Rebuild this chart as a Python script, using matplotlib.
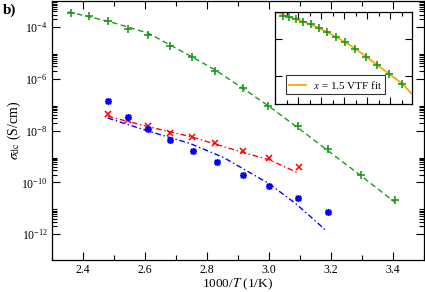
import numpy as np
import matplotlib
matplotlib.use('Agg')
import matplotlib.pyplot as plt
from matplotlib.ticker import FixedLocator, MultipleLocator, NullFormatter, LogLocator

plt.rcParams['font.family'] = ['Liberation Serif', 'DejaVu Serif']
plt.rcParams['mathtext.fontset'] = 'stix'

# DATA (x = 1000/T, y = log10 sigma_dc)
x_green = [2.360, 2.420, 2.482, 2.544, 2.611, 2.681, 2.753, 2.827, 2.915, 2.997, 3.094, 3.191, 3.296, 3.405]
y_green = [-3.46, -3.58, -3.78, -4.09, -4.32, -4.74, -5.18, -5.69, -6.35, -7.04, -7.81, -8.72, -9.70, -10.70]
xfit_green = [2.352, 2.481, 2.610, 2.752, 2.826, 2.913, 2.997, 3.094, 3.190, 3.294, 3.406]
yfit_green = [-3.42, -3.78, -4.24, -5.16, -5.66, -6.35, -7.04, -7.90, -8.78, -9.72, -10.77]

x_red = [2.482, 2.544, 2.611, 2.681, 2.753, 2.827, 2.915, 3.001, 3.096]
y_red = [-7.37, -7.59, -7.82, -8.08, -8.27, -8.48, -8.81, -9.08, -9.42]
xfit_red = [2.480, 2.610, 2.745, 2.834, 2.917, 3.000, 3.095]
yfit_red = [-7.45, -7.85, -8.23, -8.55, -8.85, -9.13, -9.64]

x_blue = [2.482, 2.544, 2.611, 2.681, 2.755, 2.832, 2.915, 3.001, 3.094, 3.191]
y_blue = [-6.88, -7.48, -7.95, -8.36, -8.78, -9.23, -9.70, -10.13, -10.60, -11.13]
xfit_blue = [2.480, 2.610, 2.745, 2.853, 3.000, 3.089, 3.186]
yfit_blue = [-7.52, -8.02, -8.50, -9.04, -10.05, -10.85, -11.88]

# inset (no tick labels in the original)
x_ins = [0.67, 1.24, 1.83, 2.46, 3.10, 3.80, 4.55, 5.30, 6.11, 6.98, 7.91, 8.84, 9.89, 11.02]
y_ins = [4.27, 4.18, 4.07, 3.95, 3.80, 3.60, 3.37, 3.12, 2.83, 2.49, 2.07, 1.62, 1.14, 0.61]
xfit_ins = [0.0, 1.24, 2.46, 3.80, 5.30, 6.98, 8.84, 9.89, 11.02, 11.9]
yfit_ins = [4.50, 4.20, 3.96, 3.61, 3.13, 2.50, 1.63, 1.15, 0.62, 0.05]

green = '#1c9a1c'
red = '#ff0000'
blue = '#0000ff'
orange = '#ffa500'

fig = plt.figure(figsize=(4.25, 2.92), dpi=100)
ax = fig.add_axes([52/425, 1-260/292, 372/425, 259/292])

ax.plot(xfit_green, 10**np.array(yfit_green), color=green, lw=1.0, ls=(0, (4, 2.5)))
ax.plot(x_green, 10**np.array(y_green), ls='none', marker='+', color=green, ms=6, mew=1.2)
ax.plot(xfit_red, 10**np.array(yfit_red), color=red, lw=1.0, ls=(0, (4, 2, 1, 2)))
ax.plot(x_red, 10**np.array(y_red), ls='none', marker='x', color=red, ms=4, mew=1.1)
ax.plot(xfit_blue, 10**np.array(yfit_blue), color=blue, lw=1.0, ls=(0, (4, 2, 1, 2)))
ax.plot(x_blue, 10**np.array(y_blue), ls='none', marker=(8, 2, 0), color=blue, ms=5, mew=1.1)

ax.set_yscale('log')
ax.set_xlim(2.3, 3.5)
ax.set_ylim(1e-13, 1e-3)
ax.xaxis.set_major_locator(MultipleLocator(0.2))
ax.xaxis.set_minor_locator(MultipleLocator(0.1))
ax.yaxis.set_major_locator(FixedLocator([1e-12, 1e-10, 1e-8, 1e-6, 1e-4]))
minors = [k * 10.0**e for e in (-12, -10, -8, -6, -4) for k in range(2, 10)]
ax.yaxis.set_minor_locator(FixedLocator(minors))
ax.yaxis.set_minor_formatter(NullFormatter())
ax.tick_params(which='both', direction='in', top=True, right=True, labelsize=8.5, width=0.8)
ax.tick_params(which='major', length=6, pad=3)
ax.tick_params(which='minor', length=3.5)
for s in ax.spines.values():
    s.set_linewidth(0.9)

ax.set_xlabel('1000/$T$ (1/K)', fontsize=9.5, labelpad=0)
ax.set_ylabel(r'$\sigma_{\rm dc}$ (S/cm)', fontsize=10)
ax.yaxis.set_label_coords(-0.078, 0.5)
fig.text(3/425, 1-14/292, 'b)', fontsize=11, fontweight='bold')

# INSET
axi = fig.add_axes([275/425, 1-104/292, 137/425, 92/292])
axi.plot(xfit_ins, 10**np.array(yfit_ins), color=orange, lw=1.3, label='$x$ = 1.5 VTF fit')
axi.plot(x_ins, 10**np.array(y_ins), ls='none', marker='+', color=green, ms=6, mew=1.2)
axi.set_yscale('log')
axi.set_xlim(0, 11.9)
axi.set_ylim(10**-0.49, 10**4.47)
axi.xaxis.set_major_locator(MultipleLocator(2))
axi.xaxis.set_minor_locator(MultipleLocator(1))
axi.yaxis.set_major_locator(LogLocator(base=10))
axi.yaxis.set_minor_locator(LogLocator(base=10, subs=np.arange(2, 10)))
axi.tick_params(which='both', direction='in', top=True, right=True,
                labelbottom=False, labelleft=False, width=0.8)
axi.tick_params(which='major', length=5)
axi.tick_params(which='minor', length=3)
axi.yaxis.set_minor_formatter(NullFormatter())
for s in axi.spines.values():
    s.set_linewidth(0.9)
leg = axi.legend(loc='lower left', bbox_to_anchor=(0.08, 0.11), fontsize=8, frameon=True,
                 fancybox=False, edgecolor='black', handlelength=1.5, handletextpad=0.6,
                 borderpad=0.3, borderaxespad=0)
leg.get_frame().set_linewidth(0.8)

fig.savefig('out.png', dpi=100)
